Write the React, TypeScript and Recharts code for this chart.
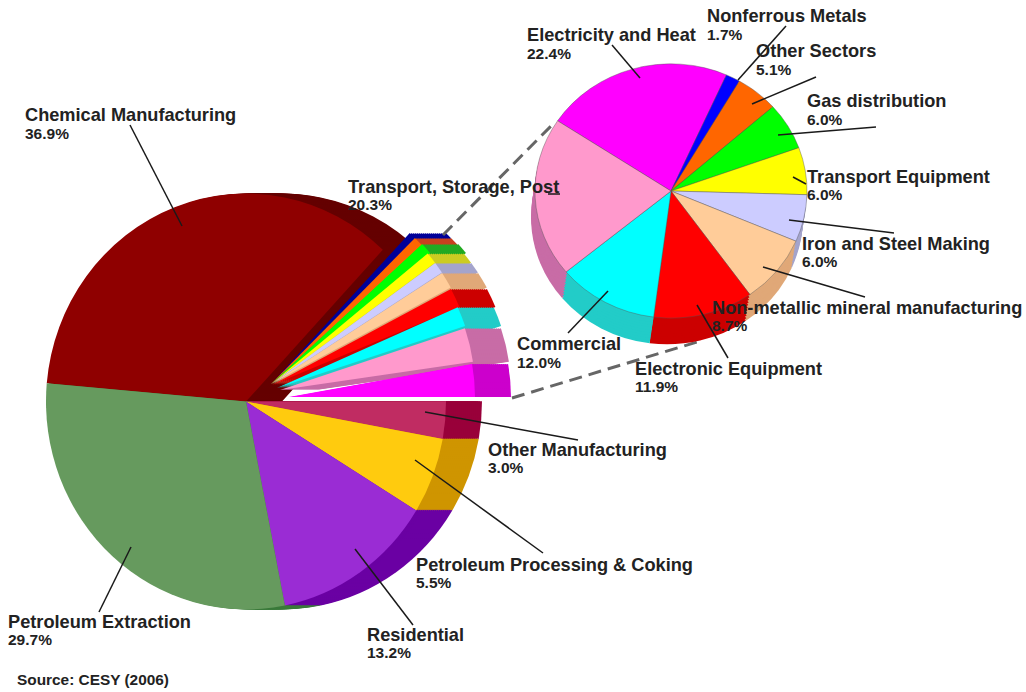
import React from 'react';
import { PieChart, Pie, Cell } from 'recharts';

// Main pie: shares as drawn (the second entry is the gap that holds the exploded fan)
const mainNames = ['Chemical Manufacturing', 'Breakout', 'Other Manufacturing', 'Petroleum Processing & Coking', 'Residential', 'Petroleum Extraction'];
const mainShares = [35.6, 13.0, 2.9, 5.9, 13.1, 29.5];
const mainFront = ['#8F0000', 'none', '#C02C62', '#FFCB0E', '#9A2CD4', '#669A5E'];
const mainSide = ['#650000', 'none', '#99003A', '#CF9500', '#6A00A3', '#3B7A3B'];

// Breakout pie
const subNames = ['Electricity and Heat', 'Nonferrous Metals', 'Other Sectors', 'Gas distribution', 'Transport Equipment', 'Iron and Steel Making', 'Non-metallic mineral manufacturing', 'Electronic Equipment', 'Commercial', 'Transport, Storage, Post'];
const subValues = [22.4, 1.7, 5.1, 6.0, 6.0, 6.0, 8.7, 11.9, 12.0, 20.3];
const subFront = ['#FF00FF', '#0000FF', '#FF6600', '#00FF00', '#FFFF00', '#CCCCFF', '#FFCC99', '#FF0000', '#00FFFF', '#FF99CC'];
const subSide = ['#CC00CC', '#000099', '#C8401E', '#22AA22', '#CCCC22', '#A4A4CC', '#E0A878', '#CC0000', '#22CCC8', '#C86CA6'];

// Fan of exploded wedges, same order as the breakout pie
const fanFront = ['#FF00FF', '#000099', '#FF6600', '#00FF00', '#FFFF00', '#CCCCFF', '#FFCC99', '#FF0000', '#00FFFF', '#FF99CC'];
const fanOrder = [1, 2, 3, 4, 5, 6, 7, 8, 9, 0];
const fanTips = [[289, 397], [271, 384], [271, 384], [271, 384], [271, 384], [271, 384], [271, 384], [272, 385], [277, 388], [280, 390]];
const fanRadius = [186, 205, 205, 206, 204, 204, 204, 203, 198, 195];
const fanTop = [10.2, 47.4, 45.4, 42.8, 39.8, 36.4, 33, 28.2, 24.1, 18.5];
const fanDegPerPct = [0.455, 1.2, 0.55, 0.55, 0.55, 0.55, 0.55, 0.47, 0.49, 0.5];

// name, percent, x, name baseline, percent baseline
const labels: [string, string, number, number, number][] = [
    ['Chemical Manufacturing', '36.9%', 25, 121, 139],
    ['Petroleum Extraction', '29.7%', 8, 628, 645],
    ['Residential', '13.2%', 367, 641, 658],
    ['Petroleum Processing & Coking', '5.5%', 416, 571, 588],
    ['Other Manufacturing', '3.0%', 488, 456, 473],
    ['Transport, Storage, Post', '20.3%', 348, 193, 210],
    ['Commercial', '12.0%', 517, 350, 368],
    ['Electronic Equipment', '11.9%', 635, 375, 392],
    ['Non-metallic mineral manufacturing', '8.7%', 712, 314, 331],
    ['Iron and Steel Making', '6.0%', 802, 250, 267],
    ['Transport Equipment', '6.0%', 807, 183, 200],
    ['Gas distribution', '6.0%', 807, 107, 125],
    ['Other Sectors', '5.1%', 756, 57, 75],
    ['Nonferrous Metals', '1.7%', 707, 22, 40],
    ['Electricity and Heat', '22.4%', 527, 41, 59],
];

const leaders = [
    [130, 125, 182, 226], [99, 612, 131, 547], [413, 625, 355, 549], [543, 553, 415, 460], [578, 440, 425, 412],
    [548, 194, 560, 194], [612, 45, 640, 78], [786, 26, 738, 80], [816, 77, 752, 104], [876, 127, 778, 135],
    [806, 184, 793, 177], [894, 233, 789, 220], [865, 297, 763, 267], [728, 358, 697, 305], [568, 333, 608, 291],
];
const connectors = [[443, 235, 555, 122], [512, 398, 697, 342]];

const W = 1026;
const H = 692;
const layer: React.CSSProperties = { position: 'absolute', left: 0, top: 0 };
const margin = { top: 0, right: 0, bottom: 0, left: 0 };

const mainData = mainNames.map((name, i) => ({ name, value: mainShares[i] }));
const subData = subNames.map((name, i) => ({ name, value: subValues[i] }));

const mainDepths = [36, 34, 32, 30, 28, 26, 24, 22, 20, 18, 16, 14, 12, 10, 8, 6, 4, 2];
const subDepths = [1, 0.9, 0.8, 0.7, 0.6, 0.5, 0.4, 0.3, 0.2, 0.1];

export default function App() {
    const cx = 246;
    const cy = 401.5;
    const subCx = 671;
    const subCy = 191;

    return (
        <div style={{ position: 'absolute', left: 0, top: 0, width: W, height: H, background: '#fff', overflow: 'hidden' }}>
            {/* Main pie, a little taller than wide */}
            <div style={{ ...layer, transform: 'scaleY(1.04)', transformOrigin: `${cx}px ${cy}px` }}>
                <PieChart width={W} height={H} margin={margin}>
                    {mainDepths.map((d) => (
                        <Pie key={d} data={mainData} dataKey="value" nameKey="name" cx={cx + d} cy={cy} outerRadius={200} startAngle={175} endAngle={-185} stroke="none" isAnimationActive={false}>
                            {mainSide.map((c, i) => <Cell key={i} fill={c} />)}
                        </Pie>
                    ))}
                    <Pie data={mainData} dataKey="value" nameKey="name" cx={cx} cy={cy} outerRadius={200} startAngle={175} endAngle={-185} stroke="none" isAnimationActive={false}>
                        {mainFront.map((c, i) => <Cell key={i} fill={c} />)}
                    </Pie>
                </PieChart>
            </div>

            {/* Exploded fan */}
            <div style={layer}>
                <PieChart width={W} height={H} margin={margin}>
                    {fanOrder.map((i) => {
                        const startAngle = fanTop[i];
                        const endAngle = startAngle - subValues[i] * fanDegPerPct[i];
                        return (
                            <React.Fragment key={i}>
                                {mainDepths.map((d) => (
                                    <Pie key={d} data={[subData[i]]} dataKey="value" nameKey="name" cx={fanTips[i][0] + d} cy={fanTips[i][1]} outerRadius={fanRadius[i]} startAngle={startAngle} endAngle={endAngle} stroke="none" fill={subSide[i]} isAnimationActive={false} />
                                ))}
                                <Pie data={[subData[i]]} dataKey="value" nameKey="name" cx={fanTips[i][0]} cy={fanTips[i][1]} outerRadius={fanRadius[i]} startAngle={startAngle} endAngle={endAngle} stroke="none" fill={fanFront[i]} isAnimationActive={false} />
                            </React.Fragment>
                        );
                    })}
                </PieChart>
            </div>

            <svg width={W} height={H} style={layer}>
                {connectors.map((l, i) => (
                    <line key={i} x1={l[0]} y1={l[1]} x2={l[2]} y2={l[3]} stroke="#666" strokeWidth={3} strokeDasharray="13 7" />
                ))}
            </svg>

            {/* Breakout pie, squashed a little */}
            <div style={{ ...layer, transform: 'scaleY(0.935)', transformOrigin: `${subCx}px ${subCy}px` }}>
                <PieChart width={W} height={H} margin={margin}>
                    {subDepths.map((t) => (
                        <Pie key={t} data={subData} dataKey="value" nameKey="name" cx={subCx - 4 * t} cy={subCy + 28 * t} outerRadius={136} startAngle={146.5} endAngle={-213.5} stroke="none" isAnimationActive={false}>
                            {subSide.map((c, i) => <Cell key={i} fill={c} />)}
                        </Pie>
                    ))}
                    <Pie data={subData} dataKey="value" nameKey="name" cx={subCx} cy={subCy} outerRadius={136} startAngle={146.5} endAngle={-213.5} stroke="#55555588" strokeWidth={0.8} isAnimationActive={false}>
                        {subFront.map((c, i) => <Cell key={i} fill={c} />)}
                    </Pie>
                </PieChart>
            </div>

            {/* Leader lines and labels */}
            <svg width={W} height={H} style={{ ...layer, fontFamily: '"Liberation Sans", Arial, sans-serif', fontWeight: 700 }}>
                {leaders.map((l, i) => (
                    <line key={i} x1={l[0]} y1={l[1]} x2={l[2]} y2={l[3]} stroke="#1a1a1a" strokeWidth={1.5} />
                ))}
                {labels.map(([name, pct, x, y1, y2]) => (
                    <g key={name} fill="#222">
                        <text x={x} y={y1} fontSize={18.2}>{name}</text>
                        <text x={x} y={y2} fontSize={15.5}>{pct}</text>
                    </g>
                ))}
                <text x={17} y={685} fontSize={15.4} fill="#222">Source: CESY (2006)</text>
            </svg>
        </div>
    );
}
